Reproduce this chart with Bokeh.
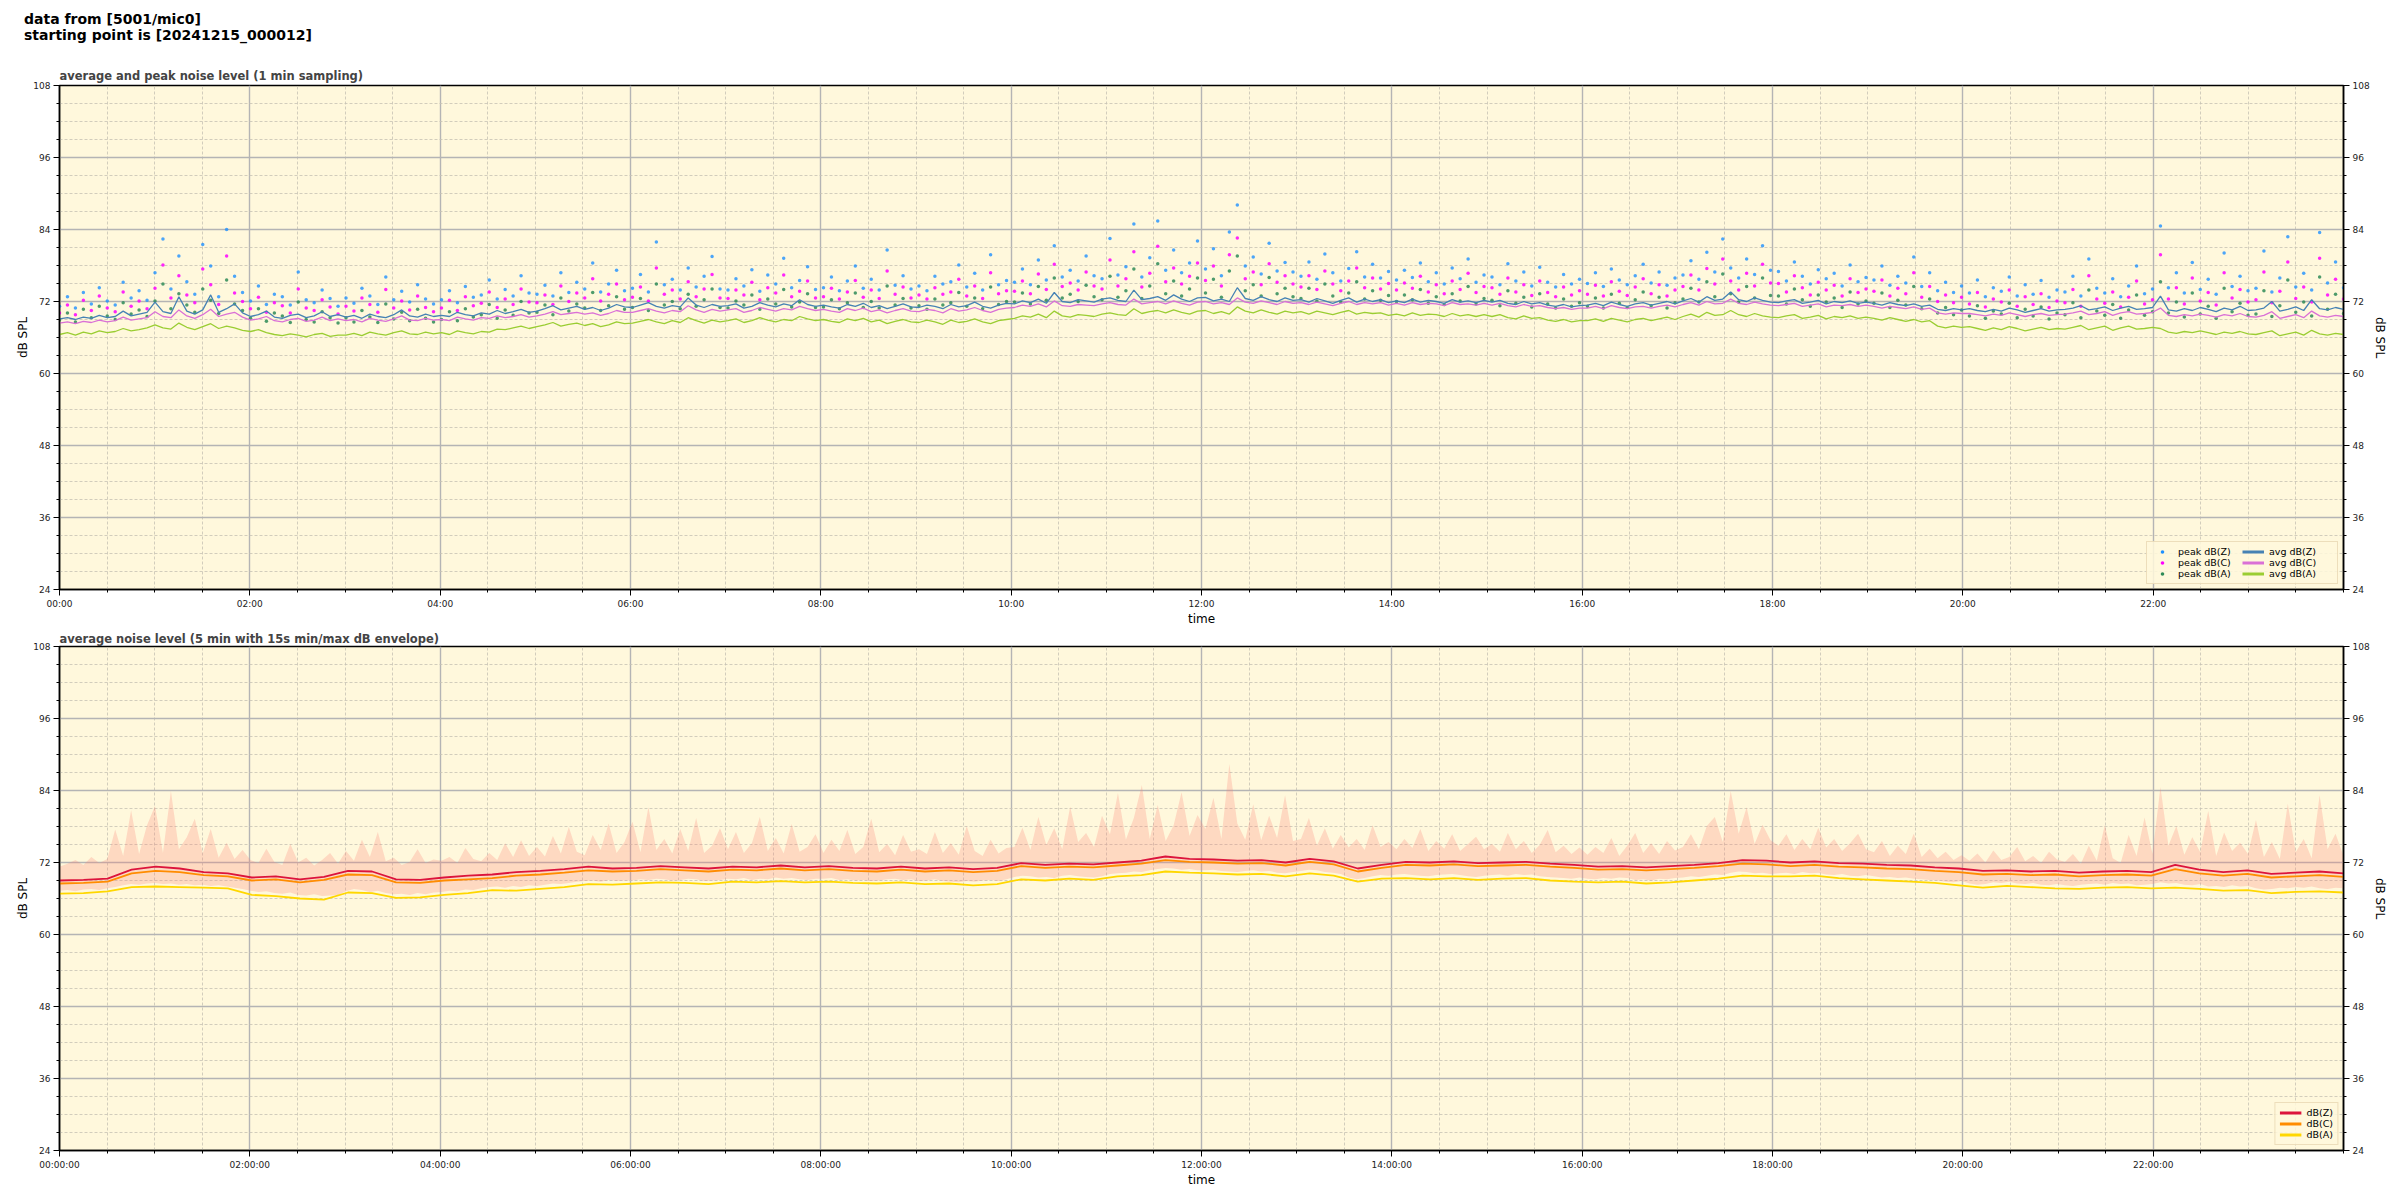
from bokeh.plotting import figure
from bokeh.models import Range1d, FixedTicker, LinearAxis, Legend, LegendItem, Div
from bokeh.layouts import column
from bokeh.embed import file_html
from bokeh.resources import INLINE

FONT = "DejaVu Sans"

# ---------------- data ----------------
hour_ticks = [0, 2, 4, 6, 8, 10, 12, 14, 16, 18, 20, 22]
top_tick_labels = ["00:00", "02:00", "04:00", "06:00", "08:00", "10:00",
                   "12:00", "14:00", "16:00", "18:00", "20:00", "22:00"]
bottom_tick_labels = ["00:00:00", "02:00:00", "04:00:00", "06:00:00", "08:00:00", "10:00:00",
                      "12:00:00", "14:00:00", "16:00:00", "18:00:00", "20:00:00", "22:00:00"]
y_ticks = [24, 36, 48, 60, 72, 84, 96, 108]

# top chart, 5-minute samples (dB SPL), one row per hour
avg_z = [69.1, 69.3, 69.0, 69.4, 69.2, 69.7, 69.3, 69.5, 70.4, 69.6, 69.9, 70.2,
         71.9, 70.3, 70.0, 72.8, 70.4, 69.9, 70.6, 73.1, 70.2, 70.8, 71.6, 70.1,
         69.5, 69.8, 70.4, 69.4, 69.2, 69.7, 69.9, 69.3, 69.6, 70.3, 69.5, 69.8,
         69.4, 69.7, 69.2, 69.9, 69.5, 69.3, 69.8, 70.6, 69.6, 69.4, 69.9, 69.5,
         69.7, 69.5, 70.2, 69.8, 69.6, 70.1, 69.9, 70.5, 70.0, 70.3, 70.7, 70.2,
         70.4, 70.8, 71.3, 70.6, 70.9, 71.2, 70.7, 71.0, 70.5, 70.9, 71.5, 71.1,
         71.0, 71.4, 71.8, 71.2, 70.9, 71.3, 71.1, 72.6, 71.4, 71.0, 71.5, 71.2,
         71.3, 71.6, 70.9, 71.2, 71.8, 71.4, 71.1, 71.6, 71.3, 72.3, 71.5, 71.2,
         71.4, 71.1, 70.9, 71.5, 71.2, 71.7, 71.0, 71.3, 70.8, 71.2, 71.6, 71.1,
         71.0, 71.4, 71.2, 70.8, 71.5, 71.1, 71.3, 71.9, 71.2, 70.9, 71.4, 71.7,
         71.6, 72.1, 71.8, 72.4, 71.7, 73.5, 72.0, 71.8, 72.3, 72.1, 71.9, 72.4,
         72.6, 72.2, 72.0, 73.9, 72.3, 72.5, 72.8, 72.2, 73.1, 72.4, 72.0, 72.6,
         72.7, 72.1, 72.4, 72.0, 74.3, 72.5, 72.2, 72.8, 72.3, 72.0, 72.6, 72.2,
         72.3, 71.9, 72.5, 72.1, 71.7, 72.2, 72.6, 71.9, 72.4, 72.0, 72.3, 71.8,
         72.1, 71.8, 72.4, 71.9, 72.2, 72.0, 71.7, 72.3, 71.9, 72.1, 71.8, 72.2,
         71.9, 72.2, 71.7, 71.5, 72.0, 71.6, 71.8, 71.4, 71.2, 71.5, 71.1, 71.3,
         71.4, 71.7, 71.3, 71.9, 71.5, 71.2, 71.6, 71.8, 71.4, 71.7, 72.0, 71.6,
         72.1, 72.5, 71.9, 72.8, 72.2, 72.4, 73.6, 72.3, 72.0, 72.6, 72.2, 71.9,
         71.8, 72.1, 72.3, 71.7, 71.9, 72.2, 71.6, 72.0, 71.8, 72.1, 71.7, 71.9,
         71.7, 71.4, 71.8, 71.5, 71.3, 71.6, 71.2, 71.4, 70.7, 70.5, 70.8, 70.6,
         70.8, 70.5, 70.3, 70.7, 70.4, 70.9, 70.6, 70.2, 70.5, 70.8, 70.4, 70.6,
         70.7, 70.9, 71.3, 70.6, 70.8, 71.1, 70.5, 70.9, 71.2, 70.7, 70.8, 71.0,
         72.9, 70.6, 70.4, 70.8, 70.5, 71.0, 70.7, 70.3, 70.9, 70.6, 71.2, 70.5,
         70.6, 70.9, 72.0, 70.4, 70.7, 71.1, 70.5, 72.3, 70.8, 70.6, 71.0, 70.7]
avg_c = [68.4, 68.6, 68.3, 68.7, 68.5, 68.9, 68.6, 68.8, 69.4, 68.9, 69.1, 69.3,
         70.3, 69.5, 69.3, 70.6, 69.6, 69.2, 69.8, 70.7, 69.5, 69.9, 70.2, 69.4,
         68.9, 69.1, 69.5, 68.8, 68.6, 69.0, 69.2, 68.7, 68.9, 69.4, 68.8, 69.1,
         68.8, 69.0, 68.6, 69.2, 68.9, 68.7, 69.1, 69.6, 68.9, 68.8, 69.2, 68.9,
         69.0, 68.8, 69.4, 69.1, 68.9, 69.3, 69.2, 69.6, 69.3, 69.5, 69.8, 69.4,
         69.6, 69.9, 70.3, 69.8, 70.0, 70.2, 69.9, 70.1, 69.7, 70.0, 70.5, 70.2,
         70.2, 70.5, 70.8, 70.4, 70.1, 70.5, 70.3, 71.3, 70.6, 70.2, 70.7, 70.4,
         70.6, 70.8, 70.2, 70.5, 71.0, 70.7, 70.4, 70.8, 70.6, 71.2, 70.8, 70.5,
         70.7, 70.4, 70.2, 70.8, 70.5, 70.9, 70.3, 70.6, 70.1, 70.5, 70.8, 70.4,
         70.3, 70.7, 70.5, 70.1, 70.8, 70.4, 70.6, 71.0, 70.5, 70.2, 70.7, 70.9,
         71.0, 71.4, 71.2, 71.6, 71.1, 72.1, 71.3, 71.2, 71.5, 71.4, 71.3, 71.6,
         71.8, 71.5, 71.4, 72.4, 71.6, 71.8, 72.0, 71.6, 72.1, 71.7, 71.4, 71.9,
         72.0, 71.6, 71.8, 71.5, 72.6, 71.9, 71.7, 72.1, 71.8, 71.5, 72.0, 71.7,
         71.8, 71.5, 71.9, 71.6, 71.3, 71.7, 72.0, 71.5, 71.8, 71.6, 71.8, 71.4,
         71.7, 71.4, 71.8, 71.5, 71.7, 71.6, 71.3, 71.8, 71.5, 71.6, 71.4, 71.7,
         71.4, 71.7, 71.3, 71.1, 71.5, 71.2, 71.3, 71.0, 70.8, 71.0, 70.7, 70.9,
         70.9, 71.2, 70.8, 71.3, 71.0, 70.8, 71.1, 71.2, 70.9, 71.2, 71.4, 71.1,
         71.5, 71.8, 71.4, 72.0, 71.6, 71.7, 72.4, 71.7, 71.5, 71.9, 71.6, 71.4,
         71.3, 71.5, 71.7, 71.2, 71.4, 71.6, 71.1, 71.4, 71.3, 71.5, 71.2, 71.4,
         71.2, 70.9, 71.2, 71.0, 70.8, 71.1, 70.7, 70.9, 70.1, 69.9, 70.1, 70.0,
         70.0, 69.8, 69.6, 69.9, 69.7, 70.1, 69.8, 69.5, 69.8, 70.0, 69.7, 69.8,
         69.9, 70.1, 70.4, 69.8, 70.0, 70.3, 69.7, 70.1, 70.3, 69.9, 70.0, 70.2,
         70.9, 69.7, 69.5, 69.8, 69.6, 69.9, 69.7, 69.4, 69.8, 69.6, 70.0, 69.5,
         69.4, 69.7, 70.3, 69.2, 69.5, 69.8, 69.3, 70.4, 69.6, 69.4, 69.7, 69.5]
avg_a = [66.5, 66.8, 66.4, 66.9, 66.6, 67.1, 66.8, 67.0, 67.5, 67.1, 67.3, 67.6,
         68.1, 67.6, 67.4, 68.4, 67.7, 67.3, 67.8, 68.3, 67.5, 67.9, 67.6, 67.2,
         67.0, 67.3, 66.8, 66.5, 66.3, 66.6, 66.4, 66.1, 66.5, 66.7, 66.2, 66.4,
         66.4, 66.7, 66.3, 66.9, 66.6, 66.4, 66.8, 67.1, 66.6, 66.5, 66.9, 66.6,
         66.8, 66.5, 67.1, 66.8, 66.6, 67.0, 66.9, 67.4, 67.3, 67.6, 67.9, 67.5,
         67.8, 68.1, 68.5, 67.9, 68.2, 68.4, 68.0, 68.3, 67.8, 68.1, 68.6, 68.3,
         68.4, 68.7, 69.0, 68.6, 68.3, 68.8, 68.5, 69.3, 68.8, 68.4, 68.9, 68.6,
         68.8, 69.1, 68.5, 68.8, 69.3, 68.9, 68.6, 69.0, 68.8, 69.5, 69.1, 68.8,
         69.0, 68.7, 68.5, 69.1, 68.8, 69.2, 68.6, 68.9, 68.3, 68.7, 69.0, 68.6,
         68.5, 68.9, 68.6, 68.2, 68.9, 68.5, 68.7, 69.1, 68.6, 68.3, 68.8, 69.0,
         69.2, 69.6, 69.4, 69.9, 69.3, 70.4, 69.6, 69.4, 69.8, 69.7, 69.5, 69.9,
         70.1, 69.8, 69.7, 70.8, 70.0, 70.3, 70.5, 70.1, 70.6, 70.2, 69.9, 70.4,
         70.5, 70.0, 70.3, 69.9, 71.1, 70.4, 70.1, 70.6, 70.2, 69.9, 70.4, 70.1,
         70.3, 69.9, 70.4, 70.1, 69.8, 70.2, 70.5, 69.9, 70.2, 70.0, 70.1, 69.7,
         69.9, 69.6, 70.1, 69.7, 69.9, 69.8, 69.5, 70.0, 69.6, 69.8, 69.5, 69.8,
         69.5, 69.8, 69.3, 69.1, 69.6, 69.2, 69.3, 68.9, 68.7, 69.0, 68.6, 68.8,
         68.8, 69.1, 68.7, 69.2, 68.9, 68.6, 69.0, 69.2, 68.8, 69.1, 69.4, 69.0,
         69.5, 69.9, 69.4, 70.2, 69.7, 69.8, 70.5, 69.8, 69.5, 70.0, 69.6, 69.4,
         69.3, 69.6, 69.8, 69.2, 69.4, 69.7, 69.1, 69.5, 69.3, 69.6, 69.2, 69.4,
         69.2, 68.9, 69.3, 69.0, 68.7, 69.0, 68.6, 68.8, 67.9, 67.6, 67.9, 67.7,
         67.8, 67.5, 67.2, 67.6, 67.3, 67.8, 67.5, 67.1, 67.4, 67.7, 67.3, 67.5,
         67.4, 67.7, 68.0, 67.3, 67.6, 67.9, 67.2, 67.6, 67.9, 67.4, 67.5, 67.7,
         67.5, 66.9, 66.7, 67.0, 66.8, 67.1, 66.8, 66.5, 66.9, 66.7, 67.0, 66.6,
         66.5, 66.8, 67.1, 66.3, 66.6, 66.9, 66.4, 67.2, 66.6, 66.4, 66.7, 66.5]
peak_z = [71.2, 72.8, 70.9, 73.5, 71.6, 74.3, 72.1, 71.4, 75.2, 72.6, 73.8, 72.2,
          76.8, 82.4, 74.1, 79.6, 75.3, 73.2, 81.5, 77.9, 72.8, 84.0, 76.2, 73.5,
          72.1, 74.6, 71.5, 73.2, 72.8, 71.4, 76.9, 72.3, 71.8, 73.9, 72.5, 71.2,
          72.6, 71.7, 74.2, 72.9, 71.5, 76.1, 72.3, 73.7, 71.9, 74.8, 72.4, 71.6,
          72.3, 73.8, 71.8, 74.5, 72.7, 73.1, 75.6, 72.4, 74.0, 72.9, 76.3, 73.4,
          73.2, 74.7, 72.9, 76.8, 73.5, 75.2, 74.1, 78.4, 73.6, 74.9, 77.2, 73.8,
          74.2, 76.5, 73.6, 81.9, 74.8, 75.7, 73.9, 77.6, 74.4, 76.2, 79.5, 74.1,
          73.9, 75.8, 74.6, 77.3, 73.7, 76.4, 74.9, 79.2, 74.3, 75.5, 77.8, 74.0,
          74.3, 76.1, 73.8, 75.4, 77.9, 74.2, 75.7, 73.9, 80.6, 74.7, 76.3, 74.1,
          74.6, 73.8, 76.2, 74.9, 75.3, 78.1, 74.4, 76.7, 73.9, 79.8, 74.8, 75.5,
          75.2, 77.4, 74.8, 78.9, 75.6, 81.3, 76.1, 77.2, 75.4, 79.6, 76.3, 75.8,
          82.5, 76.4, 77.8, 84.9, 76.1, 79.3, 85.4, 77.2, 80.6, 76.8, 78.4, 82.1,
          77.4, 80.8, 76.3, 83.6, 88.1, 77.9, 79.4, 76.6, 81.7, 77.1, 78.5, 76.9,
          76.2, 78.6, 75.7, 79.9, 76.8, 75.4, 77.5, 80.3, 76.1, 78.2, 75.9, 77.0,
          75.6, 77.2, 76.0, 78.4, 75.3, 76.8, 74.9, 77.6, 75.8, 79.1, 75.2, 76.4,
          76.1, 74.8, 78.3, 75.4, 76.9, 74.6, 77.7, 75.2, 74.4, 76.5, 74.9, 75.7,
          75.0, 76.8, 74.5, 77.4, 75.6, 74.8, 76.3, 78.2, 75.1, 76.9, 74.7, 75.9,
          76.4, 78.8, 75.7, 80.2, 76.9, 82.4, 77.6, 75.9, 79.1, 76.5, 81.3, 77.2,
          77.0, 75.4, 78.6, 76.2, 74.9, 77.3, 75.8, 76.7, 74.6, 78.1, 75.3, 76.0,
          75.6, 77.9, 74.7, 76.2, 75.1, 79.4, 74.5, 76.8, 73.8, 75.2, 73.5, 74.6,
          73.4, 75.6, 72.8, 74.3, 73.7, 76.1, 72.9, 74.8, 73.2, 75.5, 72.7, 73.9,
          73.6, 76.2, 72.9, 79.1, 74.2, 73.4, 75.8, 72.8, 74.6, 77.9, 73.3, 74.1,
          84.6, 74.3, 76.8, 73.4, 78.5, 74.0, 75.7, 73.2, 80.1, 74.5, 76.2, 73.8,
          74.2, 80.4, 73.6, 75.9, 82.8, 74.4, 76.7, 73.9, 83.5, 75.1, 78.6, 74.3]
peak_c = [70.1, 71.4, 69.8, 72.2, 70.5, 72.9, 70.9, 70.3, 73.6, 71.2, 72.1, 70.8,
          74.2, 78.1, 72.6, 76.3, 73.1, 71.8, 77.4, 74.8, 71.5, 79.6, 73.4, 72.0,
          70.8, 72.7, 70.2, 71.8, 71.3, 70.1, 74.1, 70.9, 70.5, 72.3, 71.1, 69.9,
          71.2, 70.4, 72.6, 71.5, 70.2, 74.0, 70.9, 72.1, 70.6, 72.9, 71.0, 70.3,
          70.9, 72.2, 70.5, 72.8, 71.3, 71.7, 73.6, 71.0, 72.4, 71.5, 74.1, 71.9,
          71.8, 73.1, 71.5, 74.6, 72.0, 73.4, 72.6, 75.8, 72.1, 73.2, 74.9, 72.3,
          72.7, 74.4, 72.1, 77.6, 73.2, 73.9, 72.4, 75.3, 72.8, 74.1, 76.5, 72.6,
          72.5, 73.9, 73.1, 75.2, 72.3, 74.3, 73.4, 76.4, 72.8, 73.7, 75.4, 72.6,
          72.8, 74.2, 72.4, 73.6, 75.5, 72.7, 73.9, 72.5, 77.1, 73.2, 74.4, 72.6,
          73.1, 72.4, 74.3, 73.2, 73.6, 75.7, 72.9, 74.6, 72.5, 76.8, 73.3, 73.8,
          73.7, 75.4, 73.3, 76.6, 74.0, 78.2, 74.5, 75.1, 73.9, 76.9, 74.6, 74.1,
          78.9, 74.6, 75.8, 80.3, 74.4, 76.7, 81.2, 75.3, 77.6, 74.9, 76.2, 78.4,
          75.5, 77.9, 74.6, 79.8, 82.6, 75.8, 76.9, 74.8, 78.3, 75.2, 76.3, 74.9,
          74.4, 76.3, 74.0, 77.1, 74.9, 73.8, 75.4, 77.6, 74.3, 75.9, 74.1, 75.0,
          73.9, 75.1, 74.2, 76.2, 73.6, 74.8, 73.3, 75.4, 74.0, 76.7, 73.5, 74.5,
          74.3, 73.2, 75.9, 73.6, 74.8, 73.0, 75.4, 73.5, 72.8, 74.4, 73.1, 73.8,
          73.2, 74.7, 72.9, 75.3, 73.7, 73.0, 74.4, 75.8, 73.3, 74.8, 72.9, 73.9,
          74.5, 76.4, 73.9, 77.5, 74.9, 79.1, 75.4, 73.9, 76.7, 74.6, 78.2, 75.1,
          75.0, 73.6, 76.3, 74.3, 73.1, 75.2, 73.9, 74.7, 72.9, 75.8, 73.5, 74.1,
          73.7, 75.6, 72.9, 74.2, 73.3, 76.8, 72.7, 74.5, 72.0, 73.1, 71.8, 72.7,
          71.6, 73.5, 71.1, 72.4, 71.9, 73.9, 71.2, 72.8, 71.5, 73.3, 71.0, 72.1,
          71.8, 74.0, 71.2, 76.3, 72.4, 71.7, 73.6, 71.1, 72.7, 75.4, 71.6, 72.3,
          79.8, 72.4, 74.3, 71.6, 75.9, 72.1, 73.5, 71.4, 76.8, 72.6, 74.0, 71.9,
          72.3, 76.9, 71.8, 73.7, 78.6, 72.5, 74.4, 71.9, 79.2, 73.1, 75.7, 72.4]
peak_a = [68.9, 70.1, 68.6, 70.7, 69.3, 71.2, 69.6, 69.0, 71.8, 69.9, 70.6, 69.5,
          72.1, 74.9, 70.8, 73.3, 71.4, 70.2, 74.1, 72.2, 70.0, 75.6, 71.6, 70.5,
          69.2, 70.8, 68.7, 70.1, 69.6, 68.5, 71.9, 69.0, 68.6, 70.3, 69.3, 68.4,
          69.3, 68.6, 70.5, 69.4, 68.5, 71.6, 69.1, 70.2, 68.8, 70.7, 69.2, 68.6,
          69.0, 70.3, 68.8, 70.8, 69.4, 69.8, 71.5, 69.2, 70.6, 69.7, 72.0, 70.1,
          70.2, 71.4, 69.8, 72.6, 70.4, 71.6, 70.9, 73.5, 70.5, 71.3, 72.8, 70.7,
          71.0, 72.5, 70.5, 74.9, 71.4, 72.0, 70.8, 73.2, 71.2, 72.3, 74.1, 71.0,
          70.9, 72.1, 71.4, 73.1, 70.7, 72.4, 71.6, 74.0, 71.1, 71.9, 73.3, 71.0,
          71.1, 72.3, 70.8, 71.8, 73.4, 71.0, 72.0, 70.9, 74.6, 71.4, 72.5, 70.9,
          71.3, 70.7, 72.4, 71.4, 71.8, 73.5, 71.2, 72.6, 70.8, 74.4, 71.5, 72.0,
          71.9, 73.4, 71.6, 74.5, 72.2, 75.9, 72.6, 73.2, 72.0, 74.7, 72.8, 72.3,
          76.2, 72.7, 73.8, 77.4, 72.5, 74.6, 78.3, 73.3, 75.4, 72.9, 74.1, 75.9,
          73.4, 75.7, 72.7, 77.1, 79.6, 73.8, 74.8, 72.9, 76.0, 73.3, 74.2, 72.8,
          72.5, 74.2, 72.1, 74.9, 72.9, 71.9, 73.4, 75.3, 72.4, 73.8, 72.2, 73.0,
          72.0, 73.1, 72.3, 74.0, 71.7, 72.8, 71.5, 73.3, 72.1, 74.5, 71.6, 72.5,
          72.2, 71.3, 73.8, 71.7, 72.7, 71.1, 73.3, 71.6, 70.9, 72.4, 71.2, 71.8,
          71.2, 72.6, 70.9, 73.2, 71.7, 71.0, 72.3, 73.6, 71.3, 72.7, 70.9, 71.8,
          72.4, 74.2, 71.9, 75.3, 72.8, 76.6, 73.3, 71.9, 74.5, 72.6, 75.9, 73.0,
          72.9, 71.6, 74.1, 72.3, 71.2, 73.1, 71.9, 72.6, 71.0, 73.6, 71.6, 72.1,
          71.7, 73.4, 71.0, 72.2, 71.4, 74.5, 70.8, 72.4, 70.1, 71.0, 69.8, 70.6,
          69.6, 71.3, 69.2, 70.4, 69.9, 71.7, 69.3, 70.7, 69.6, 71.1, 69.1, 70.1,
          69.8, 71.8, 69.3, 73.9, 70.4, 69.7, 71.5, 69.2, 70.6, 73.1, 69.7, 70.3,
          75.3, 70.1, 71.9, 69.4, 73.4, 69.9, 71.2, 69.2, 74.2, 70.3, 71.7, 69.7,
          69.9, 73.8, 69.5, 71.3, 75.6, 70.2, 71.9, 69.6, 76.1, 70.7, 73.2, 70.0]

# bottom chart, 15-minute averages (dB SPL)
lvl_z = [69.0, 69.1, 69.3, 70.8, 71.3, 71.0, 70.4, 70.2, 69.5, 69.7, 69.2, 69.6,
         70.6, 70.5, 69.2, 69.1, 69.5, 69.8, 70.0, 70.4, 70.6, 70.9, 71.3, 71.0,
         71.1, 71.4, 71.2, 71.0, 71.3, 71.2, 71.5, 71.2, 71.4, 71.1, 71.0, 71.3,
         71.0, 71.2, 70.9, 71.1, 71.9, 71.6, 71.8, 71.7, 72.0, 72.3, 73.0, 72.6,
         72.5, 72.3, 72.4, 72.0, 72.6, 72.2, 71.0, 71.6, 72.1, 72.0, 72.2, 71.9,
         72.0, 72.1, 71.8, 71.6, 71.3, 71.4, 71.2, 71.4, 71.6, 71.9, 72.4, 72.3,
         72.0, 72.2, 71.9, 71.8, 71.6, 71.5, 71.2, 71.0, 70.6, 70.7, 70.5, 70.6,
         70.3, 70.5, 70.6, 70.4, 71.6, 70.8, 70.4, 70.7, 70.1, 70.3, 70.5, 70.2]
lvl_c = [68.5, 68.6, 68.8, 70.2, 70.6, 70.4, 69.9, 69.7, 69.0, 69.2, 68.7, 69.1,
         70.0, 69.9, 68.7, 68.6, 69.0, 69.2, 69.4, 69.8, 70.0, 70.3, 70.7, 70.5,
         70.6, 70.9, 70.7, 70.5, 70.8, 70.7, 71.0, 70.7, 70.9, 70.6, 70.5, 70.8,
         70.5, 70.7, 70.4, 70.6, 71.4, 71.1, 71.3, 71.2, 71.5, 71.8, 72.4, 72.1,
         72.0, 71.8, 71.9, 71.5, 72.1, 71.7, 70.5, 71.1, 71.6, 71.5, 71.7, 71.4,
         71.5, 71.6, 71.3, 71.1, 70.8, 70.9, 70.7, 70.9, 71.1, 71.4, 71.8, 71.7,
         71.4, 71.6, 71.3, 71.2, 71.0, 70.9, 70.6, 70.4, 70.0, 70.1, 69.9, 70.0,
         69.7, 69.9, 70.0, 69.8, 70.9, 70.2, 69.8, 70.1, 69.5, 69.7, 69.9, 69.6]
lvl_a = [66.8, 66.9, 67.2, 67.9, 68.0, 67.9, 67.8, 67.7, 66.6, 66.4, 66.0, 65.8,
         67.0, 66.9, 66.1, 66.2, 66.6, 66.9, 67.4, 67.3, 67.6, 67.9, 68.4, 68.3,
         68.5, 68.7, 68.6, 68.4, 68.8, 68.7, 68.9, 68.7, 68.8, 68.6, 68.5, 68.7,
         68.4, 68.5, 68.2, 68.4, 69.2, 69.0, 69.3, 69.1, 69.7, 69.9, 70.5, 70.3,
         70.2, 70.0, 70.1, 69.7, 70.2, 69.8, 68.8, 69.3, 69.4, 69.2, 69.4, 69.1,
         69.3, 69.4, 69.0, 68.8, 68.7, 68.8, 68.5, 68.7, 69.0, 69.3, 69.8, 69.7,
         69.7, 69.8, 69.4, 69.2, 69.0, 68.8, 68.6, 68.2, 67.8, 68.1, 67.9, 67.7,
         67.6, 67.8, 67.9, 67.7, 67.8, 67.6, 67.3, 67.4, 66.9, 67.1, 67.2, 67.0]
# 15 s min/max envelope, reduced to 5-minute samples
env_max = [71.3, 71.8, 72.4, 71.6, 72.9, 71.9, 72.6, 77.5, 73.1, 80.7, 73.4, 78.2,
           81.4, 73.6, 83.9, 74.2, 76.2, 79.3, 73.5, 77.6, 72.8, 75.3, 72.6, 74.1,
           72.4, 71.9, 74.3, 72.1, 71.6, 75.1, 72.0, 72.8, 71.5, 72.4, 73.6, 71.8,
           73.9, 72.3, 75.8, 72.9, 77.1, 72.2, 72.8, 71.6, 72.1, 74.2, 71.9, 72.5,
           72.3, 72.9, 71.9, 74.4, 72.6, 72.2, 73.6, 72.4, 75.2, 72.9, 75.7, 73.1,
           74.6, 73.0, 76.4, 73.5, 77.9, 73.8, 73.2, 76.6, 74.1, 78.5, 73.6, 75.4,
           78.8, 73.7, 81.2, 74.1, 75.9, 73.5, 77.6, 73.9, 79.4, 73.6, 74.8, 77.7,
           74.2, 77.1, 73.6, 75.2, 79.6, 73.9, 76.1, 73.5, 78.4, 73.8, 74.6, 76.7,
           73.6, 75.8, 73.9, 77.4, 73.4, 74.6, 79.3, 73.7, 75.1, 73.2, 76.6, 73.8,
           74.2, 73.4, 77.1, 73.6, 75.2, 73.3, 78.1, 73.9, 73.1, 75.8, 73.5, 74.4,
           74.6, 77.8, 74.1, 79.6, 74.9, 77.7, 74.2, 81.3, 75.4, 76.9, 74.6, 79.8,
           76.7, 83.6, 75.8, 79.4, 84.9, 75.9, 81.6, 75.6, 78.2, 83.7, 76.4, 79.9,
           77.6, 82.8, 75.9, 88.4, 78.5, 75.8, 81.7, 75.7, 79.8, 76.1, 83.2, 75.6,
           75.9, 79.4, 74.8, 77.7, 74.3, 76.6, 74.5, 75.9, 74.1, 78.2, 74.6, 75.4,
           74.2, 75.9, 74.4, 77.6, 73.9, 75.6, 74.3, 76.7, 73.9, 75.1, 76.3, 74.2,
           75.1, 73.8, 76.9, 74.2, 75.6, 73.6, 74.9, 77.4, 73.7, 74.8, 73.4, 74.5,
           73.3, 74.6, 73.6, 76.1, 73.1, 74.8, 76.9, 73.6, 75.2, 73.4, 75.6, 74.0,
           74.6, 76.7, 74.2, 78.1, 79.6, 75.4, 83.9, 76.8, 81.2, 75.1, 78.3, 75.7,
           74.8, 76.7, 74.1, 75.9, 74.2, 77.8, 74.5, 75.9, 73.9, 75.2, 76.8, 74.2,
           73.7, 75.6, 73.1, 74.8, 73.4, 76.8, 72.9, 74.3, 72.7, 73.8, 72.4, 73.2,
           72.3, 73.5, 72.0, 74.0, 72.4, 72.9, 74.6, 72.2, 73.1, 71.9, 73.8, 72.5,
           72.1, 73.4, 71.8, 74.8, 72.3, 78.2, 72.7, 71.9, 76.6, 73.1, 79.5, 73.4,
           84.6, 74.8, 78.1, 73.3, 76.2, 73.7, 80.6, 73.1, 77.0, 73.9, 75.3, 73.4,
           79.1, 72.9, 75.4, 72.6, 81.8, 73.7, 75.9, 72.7, 83.2, 74.2, 76.8, 73.1]
env_min = [67.3, 67.4, 67.2, 67.5, 67.6, 67.4, 67.7, 67.9, 68.2, 68.4, 68.3, 68.5,
           68.6, 68.4, 68.5, 68.3, 68.4, 68.2, 68.3, 68.1, 68.2, 68.0, 67.8, 67.6,
           67.3, 67.1, 67.2, 66.9, 66.8, 67.0, 66.6, 66.5, 66.7, 66.4, 66.5, 66.6,
           67.2, 67.6, 67.4, 67.1, 67.3, 66.9, 66.7, 66.8, 66.6, 66.9, 66.7, 67.0,
           67.1, 67.3, 67.2, 67.5, 67.4, 67.7, 67.9, 68.0, 67.8, 68.1, 67.9, 68.2,
           68.1, 68.3, 68.5, 68.4, 68.6, 68.8, 68.9, 69.0, 68.8, 69.1, 68.9, 69.0,
           69.0, 69.2, 69.1, 69.3, 69.2, 69.0, 69.1, 69.3, 69.2, 68.9, 69.0, 69.1,
           69.3, 69.2, 69.4, 69.1, 69.3, 69.2, 69.5, 69.3, 69.4, 69.2, 69.1, 69.3,
           69.3, 69.4, 69.1, 69.2, 69.0, 69.1, 68.9, 69.0, 69.2, 69.3, 69.1, 69.2,
           68.9, 69.0, 69.2, 68.9, 68.8, 68.7, 68.9, 68.8, 69.0, 69.1, 68.9, 69.2,
           69.6, 69.8, 69.7, 69.5, 69.6, 69.4, 69.8, 69.9, 69.7, 69.6, 69.5, 69.7,
           70.1, 70.2, 70.3, 70.5, 70.4, 70.7, 70.9, 71.1, 71.0, 70.8, 70.9, 70.7,
           70.7, 70.8, 70.6, 70.5, 70.4, 70.6, 70.7, 70.5, 70.6, 70.3, 70.2, 70.4,
           70.6, 70.8, 70.7, 70.4, 70.3, 70.1, 69.5, 69.2, 69.4, 69.7, 69.9, 69.8,
           70.0, 70.1, 69.9, 69.8, 69.7, 69.9, 70.0, 70.1, 69.9, 69.7, 69.6, 69.8,
           69.9, 70.0, 69.8, 70.1, 69.9, 70.0, 69.7, 69.6, 69.5, 69.4, 69.3, 69.5,
           69.3, 69.2, 69.4, 69.3, 69.5, 69.4, 69.1, 69.2, 69.0, 69.3, 69.2, 69.4,
           69.5, 69.7, 69.6, 69.8, 70.0, 69.9, 70.3, 70.5, 70.4, 70.2, 70.3, 70.1,
           70.2, 70.3, 70.1, 70.4, 70.2, 70.3, 70.0, 69.9, 70.1, 69.8, 69.7, 69.9,
           69.7, 69.5, 69.6, 69.4, 69.5, 69.3, 69.2, 69.1, 69.0, 68.8, 68.7, 68.9,
           68.5, 68.3, 68.4, 68.7, 68.6, 68.8, 68.5, 68.4, 68.6, 68.3, 68.2, 68.4,
           68.2, 68.1, 68.3, 68.4, 68.5, 68.3, 68.6, 68.4, 68.5, 68.2, 68.3, 68.4,
           68.7, 68.5, 68.6, 68.3, 68.2, 68.4, 68.0, 68.1, 67.9, 68.2, 68.0, 68.1,
           67.7, 67.5, 67.6, 67.8, 67.7, 67.9, 67.8, 68.0, 67.7, 67.6, 67.8, 67.7]

# sample times in hours since 00:00
t_top = [i * 24 / (len(avg_z) - 1) for i in range(len(avg_z))]
t_bot = [i * 24 / (len(lvl_z) - 1) for i in range(len(lvl_z))]
t_env = [i * 24 / (len(env_max) - 1) for i in range(len(env_max))]

# ---------------- styling helpers ----------------
X_MINOR = [i * 0.5 for i in range(49)]
Y_MINOR = list(range(24, 109, 3))
NAN = [float("nan")]


def style_axis(ax, label):
    ax.axis_label = label
    ax.axis_label_text_font = FONT
    ax.axis_label_text_font_size = "12px"
    ax.axis_label_text_font_style = "normal"
    ax.axis_label_text_color = "black"
    ax.axis_label_standoff = 0
    ax.major_label_text_font = FONT
    ax.major_label_text_font_size = "9px"
    ax.major_label_text_color = "#222222"
    ax.major_label_standoff = 3
    ax.axis_line_color = "black"
    ax.axis_line_width = 1.5
    ax.major_tick_line_color = "black"
    ax.minor_tick_line_color = "black"
    ax.major_tick_out = 6
    ax.major_tick_in = 0
    ax.minor_tick_out = 3
    ax.minor_tick_in = 0


def make_fig(title, tick_labels, title_standoff):
    p = figure(frame_width=2284, frame_height=504,
               x_range=Range1d(0, 24), y_range=Range1d(24, 108),
               output_backend="svg", toolbar_location=None,
               min_border_left=59, min_border_right=57,
               min_border_top=0, min_border_bottom=30,
               background_fill_color="#fff8dc", border_fill_color="white")
    p.title.text = title
    p.title.text_font = FONT
    p.title.text_font_size = "11.5px"
    p.title.text_font_style = "bold"
    p.title.align = "left"
    p.title.standoff = title_standoff
    p.outline_line_color = "black"
    p.outline_line_width = 1.5

    xt = FixedTicker(ticks=hour_ticks, minor_ticks=X_MINOR)
    yt = FixedTicker(ticks=y_ticks, minor_ticks=Y_MINOR)
    p.xaxis.ticker = xt
    p.yaxis.ticker = yt
    p.xaxis.major_label_overrides = {h: lab for h, lab in zip(hour_ticks, tick_labels)}
    style_axis(p.xaxis[0], "time")
    style_axis(p.yaxis[0], "dB SPL")
    right = LinearAxis(ticker=yt)
    style_axis(right, "dB SPL")
    p.add_layout(right, "right")

    for g in (p.xgrid[0], p.ygrid[0]):
        g.grid_line_color = "#b4b4b4"
        g.grid_line_width = 1.4
        g.minor_grid_line_color = "#c6c2b4"
        g.minor_grid_line_width = 0.8
        g.minor_grid_line_dash = "3 2"
    p.xgrid[0].ticker = xt
    p.ygrid[0].ticker = yt
    return p


def style_legend(lg):
    lg.label_text_font = FONT
    lg.label_text_font_size = "9.5px"
    lg.label_text_color = "black"
    lg.background_fill_color = "#fff8dc"
    lg.background_fill_alpha = 0.85
    lg.border_line_color = "#dcc49a"
    lg.border_line_width = 1.2
    lg.glyph_width = 22
    lg.glyph_height = 9
    lg.label_height = 9
    lg.label_standoff = 5
    lg.spacing = 0
    lg.padding = 4
    lg.margin = 5


# ---------------- top chart ----------------
p1 = make_fig("average and peak noise level (1 min sampling)", top_tick_labels, 6)

p1.scatter(t_top, peak_a, marker="circle", size=3.5, color="seagreen", alpha=0.85, line_color=None)
p1.scatter(t_top, peak_c, marker="circle", size=3.5, color="magenta", alpha=0.85, line_color=None)
p1.scatter(t_top, peak_z, marker="circle", size=3.5, color="dodgerblue", alpha=0.8, line_color=None)
p1.line(t_top, avg_a, color="yellowgreen", line_width=1.3)
p1.line(t_top, avg_c, color="orchid", line_width=1.3)
p1.line(t_top, avg_z, color="steelblue", line_width=1.3)

# legend-only renderers (no visible data)
lg_pz = p1.scatter(NAN, NAN, marker="circle", size=5, color="dodgerblue", line_color=None)
lg_pc = p1.scatter(NAN, NAN, marker="circle", size=5, color="magenta", line_color=None)
lg_pa = p1.scatter(NAN, NAN, marker="circle", size=5, color="seagreen", line_color=None)
lg_az = p1.line(NAN, NAN, color="steelblue", line_width=3)
lg_ac = p1.line(NAN, NAN, color="orchid", line_width=3)
lg_aa = p1.line(NAN, NAN, color="yellowgreen", line_width=3)

leg1 = Legend(items=[LegendItem(label="peak dB(Z)", renderers=[lg_pz]),
                     LegendItem(label="peak dB(C)", renderers=[lg_pc]),
                     LegendItem(label="peak dB(A)", renderers=[lg_pa]),
                     LegendItem(label="avg dB(Z)", renderers=[lg_az]),
                     LegendItem(label="avg dB(C)", renderers=[lg_ac]),
                     LegendItem(label="avg dB(A)", renderers=[lg_aa])],
              location="bottom_right", ncols=2)
style_legend(leg1)
leg1.label_width = 64
p1.add_layout(leg1)

# ---------------- bottom chart ----------------
p2 = make_fig("average noise level (5 min with 15s min/max dB envelope)", bottom_tick_labels, 2)

p2.varea(x=t_env, y1=env_min, y2=env_max, fill_color="salmon", fill_alpha=0.26)
p2.line(t_bot, lvl_a, color="gold", line_width=1.8)
p2.line(t_bot, lvl_c, color="darkorange", line_width=1.8)
p2.line(t_bot, lvl_z, color="crimson", line_width=1.8)

lg_z = p2.line(NAN, NAN, color="crimson", line_width=3)
lg_c = p2.line(NAN, NAN, color="darkorange", line_width=3)
lg_a = p2.line(NAN, NAN, color="gold", line_width=3)
leg2 = Legend(items=[LegendItem(label="dB(Z)", renderers=[lg_z]),
                     LegendItem(label="dB(C)", renderers=[lg_c]),
                     LegendItem(label="dB(A)", renderers=[lg_a])],
              location="bottom_right")
style_legend(leg2)
p2.add_layout(leg2)

header = Div(text=("<div style=\"font-family:'DejaVu Sans';font-weight:bold;font-size:14px;"
                   "line-height:16px;padding:11px 0 0 24px;color:black;\">"
                   "data from [5001/mic0]<br>starting point is [20241215_000012]</div>"),
             width=2400, height=63, margin=(0, 0, 0, 0))

layout = column(header, p1, p2, spacing=0)
open("out.html", "w").write(file_html(layout, INLINE))
